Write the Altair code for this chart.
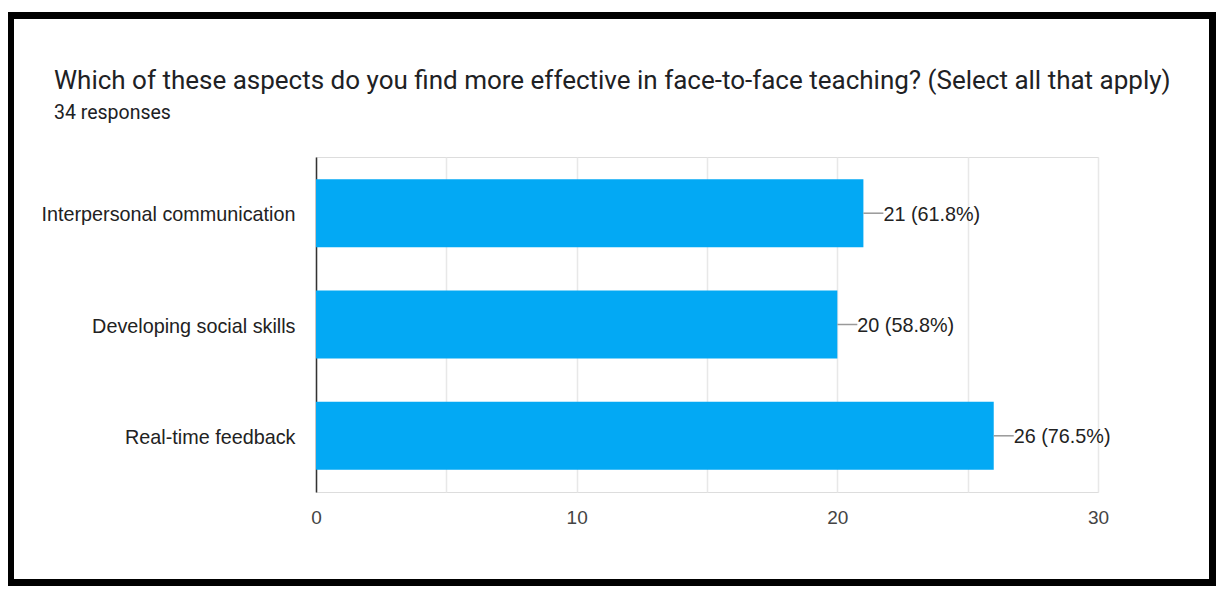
import altair as alt
import pandas as pd

categories = ["Interpersonal communication", "Developing social skills", "Real-time feedback"]
counts = [21, 20, 26]
percents = ["61.8%", "58.8%", "76.5%"]
grid_values = [0, 5, 10, 15, 20, 25, 30]

df = pd.DataFrame({
    "aspect": categories,
    "count": counts,
    "label": [f"{c} ({p})" for c, p in zip(counts, percents)],
})

PLOT_W, PLOT_H = 782, 335
PAD = {"left": 308, "top": 149, "right": 118, "bottom": 94}

y_enc = alt.Y(
    "aspect:N", sort=categories, title=None,
    scale=alt.Scale(paddingInner=0.39, paddingOuter=0.2),
    axis=alt.Axis(labelFont="Liberation Sans", labelFontSize=19.8, labelColor="#222222",
                  labelPadding=21, labelOffset=2, ticks=False, domainColor="#333333",
                  domainWidth=1.5, grid=False, labelLimit=400),
)
x_enc = alt.X(
    "count:Q", title=None,
    scale=alt.Scale(domain=[0, 30], nice=False),
    axis=alt.Axis(values=grid_values,
                  labelExpr="datum.value % 10 === 0 ? datum.label : ''",
                  labelFont="Liberation Sans", labelFontSize=19, labelColor="#444444",
                  labelPadding=16, labelFlush=False, ticks=False, domain=False,
                  gridColor="#e8e8e8", gridWidth=1.5),
)

bars = alt.Chart(df).mark_bar(color="#03A9F4").encode(x=x_enc, y=y_enc)

connectors = alt.Chart(df).mark_rule(color="#999999", strokeWidth=1.5, x2Offset=20).encode(
    x="count:Q", x2="count:Q", y=alt.Y("aspect:N", sort=categories)
)

labels = alt.Chart(df).mark_text(
    align="left", baseline="middle", dx=20, dy=1.5, font="Liberation Sans", fontSize=19.8,
    color="#222222"
).encode(x="count:Q", y=alt.Y("aspect:N", sort=categories), text="label:N")

frame = alt.Chart(pd.DataFrame({"f": [0]})).mark_rect(
    fill="transparent", stroke="black", strokeWidth=7
).encode(
    x=alt.value(-305.5), x2=alt.value(896.5), y=alt.value(-141.5), y2=alt.value(425.5)
)

chart = alt.layer(bars, connectors, labels, frame).properties(
    width=PLOT_W, height=PLOT_H,
    autosize=alt.AutoSizeParams(type="none"),
    padding=PAD,
    title=alt.TitleParams(
        text="Which of these aspects do you find more effective in face-to-face teaching? (Select all that apply)",
        subtitle="34 responses",
        anchor="start", frame="group", dx=-262, offset=-110,
        font="Roboto", fontSize=26, fontWeight="normal", color="#202124",
        subtitleFont="Roboto", subtitleFontSize=19.5, subtitleColor="#202124",
        subtitlePadding=10,
    ),
).configure_view(stroke="#e8e8e8", strokeWidth=1.5).configure(background="white")

chart.save("out.html", embed_options={"renderer": "svg", "actions": False})
